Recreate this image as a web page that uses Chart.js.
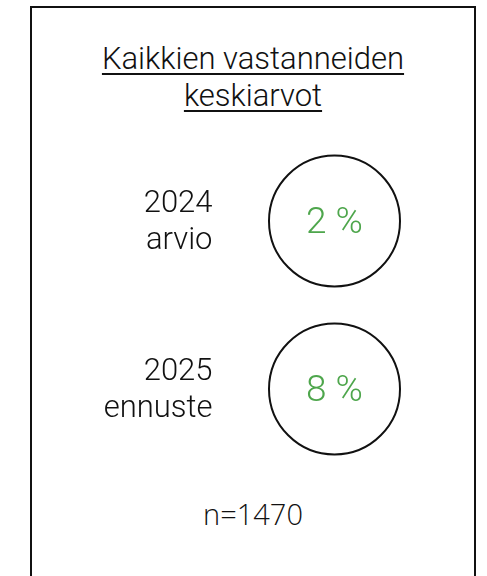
<!DOCTYPE html>
<html>
<head>
<meta charset="utf-8">
<script src="https://cdn.jsdelivr.net/npm/chart.js@4"></script>
<style>
  html, body { margin: 0; padding: 0; background: #fff; }
  #wrap { position: relative; width: 487px; height: 576px; overflow: hidden; }
  #frame { position: absolute; left: 30px; top: 6px; width: 446px; height: 620px; box-sizing: border-box; border: 2px solid #111; }
  #title { position: absolute; left: 30px; top: 40px; width: 446px; text-align: center;
           font-family: Roboto, "Noto Sans", sans-serif; font-weight: 300; font-size: 31px; line-height: 37px; color: #111;
           text-decoration: underline; text-decoration-thickness: 2px; text-underline-offset: 4px; }
  #foot { position: absolute; left: 30px; top: 494px; width: 446px; text-align: center;
          font-family: "Open Sans", sans-serif; font-weight: 300; font-size: 29px; line-height: 40px; color: #111; }
  canvas { position: absolute; left: 0; top: 0; }
</style>
</head>
<body>
<div id="wrap">
  <div id="frame"></div>
  <div id="title">Kaikkien vastanneiden<br>keskiarvot</div>
  <div id="foot">n=1470</div>
  <canvas id="c" width="487" height="576"></canvas>
</div>
<script>
// ---- data ----
const categories = [["2024", "arvio"], ["2025", "ennuste"]];
const values = [2, 8];
const valueSuffix = " %";
const sampleSize = "n=1470";

const GREEN = "#4ea64c";
const FONT = 'Roboto, "Noto Sans", sans-serif';

const labelPlugin = {
  id: "circleLabels",
  afterDatasetsDraw(chart) {
    const ctx = chart.ctx;
    const meta = chart.getDatasetMeta(0);
    ctx.save();
    meta.data.forEach((pt, i) => {
      const x = pt.x, y = pt.y;
      ctx.fillStyle = GREEN;
      ctx.font = "300 37px " + FONT;
      ctx.textAlign = "center";
      ctx.textBaseline = "alphabetic";
      ctx.fillText(values[i] + valueSuffix, x, y + 12);
      ctx.fillStyle = "#111";
      ctx.font = "300 31px " + FONT;
      ctx.textAlign = "right";
      categories[i].forEach((ln, j) => {
        ctx.fillText(ln, x - 122, y - 9 + j * 37);
      });
    });
    ctx.restore();
  }
};

new Chart(document.getElementById("c"), {
  type: "line",
  data: {
    labels: categories.map(c => c.join(" ")),
    datasets: [{
      data: values.map((v, i) => ({ x: 0, y: i })),
      showLine: false,
      pointRadius: 65.5,
      pointHoverRadius: 65.5,
      pointBorderWidth: 2,
      pointHoverBorderWidth: 2,
      pointBackgroundColor: "rgba(255,255,255,0)",
      pointBorderColor: "#111",
      clip: false
    }]
  },
  options: {
    responsive: false,
    animation: false,
    events: [],
    layout: { autoPadding: false, padding: { left: 200, right: 18, top: 137, bottom: 103 } },
    plugins: { legend: { display: false }, tooltip: { enabled: false }, title: { display: false } },
    scales: {
      x: { type: "linear", min: -1, max: 1, display: false },
      y: { type: "category", labels: categories.map(c => c.join(" ")), offset: true, display: false }
    }
  },
  plugins: [labelPlugin]
});
</script>
</body>
</html>
